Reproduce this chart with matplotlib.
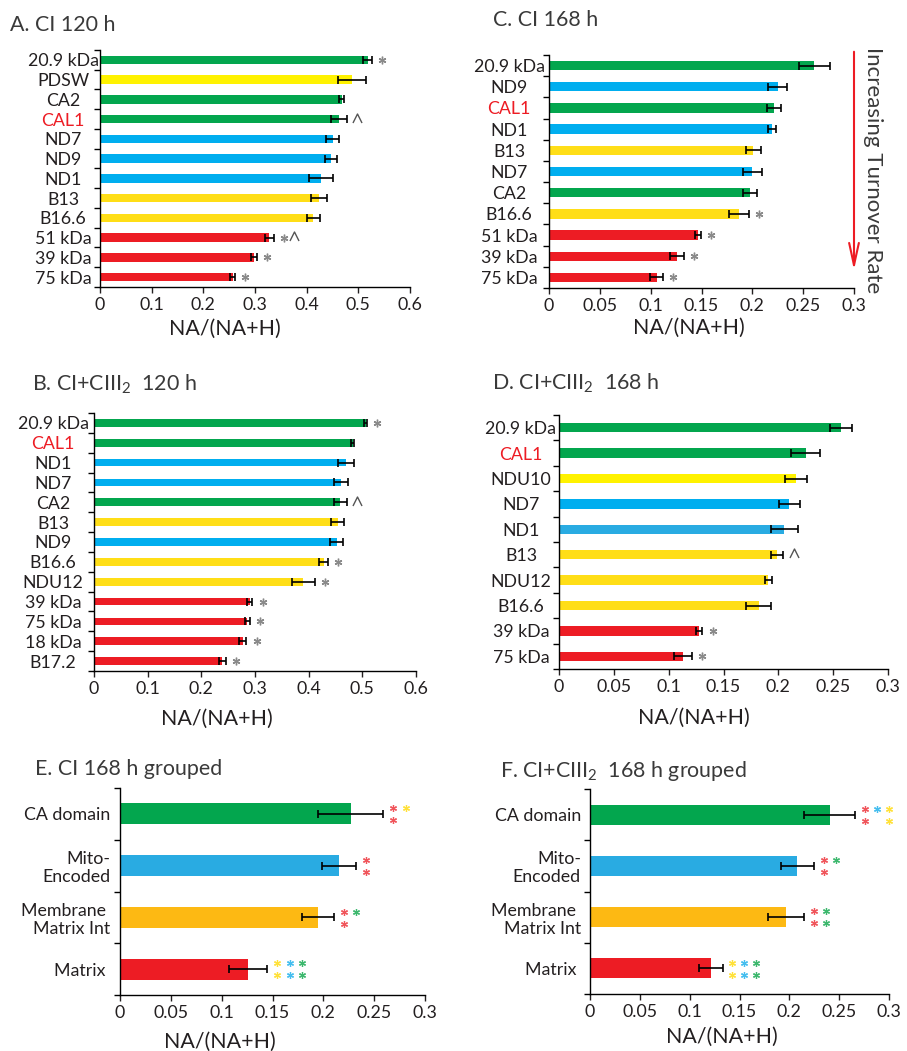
import numpy as np
import matplotlib.pyplot as plt
from matplotlib.path import Path

plt.rcParams['font.family'] = ['Lato', 'DejaVu Sans']
plt.rcParams['mathtext.fontset'] = 'custom'
plt.rcParams['mathtext.rm'] = 'Lato'
plt.rcParams['mathtext.it'] = 'Lato:italic'
plt.rcParams['mathtext.bf'] = 'Lato:bold'
plt.rcParams['font.size'] = 12.8

W, H = 907, 1051

# colour keys used by the bars
palette = {
    'g': '#03A64E', 'b': '#00AEEF', 'b2': '#29ABE2', 'y': '#FFF200',
    'o': '#FFDE17', 'm': '#FDB913', 'r': '#ED1C24',
}
# lighter tones for the small significance stars
star_palette = {'g': '#3DB86E', 'b': '#45BEEF', 'y': '#FFE13A', 'r': '#F0555B'}

# A. CI 120 h
A_labels = ['20.9 kDa', 'PDSW', 'CA2', 'CAL1', 'ND7', 'ND9', 'ND1', 'B13', 'B16.6', '51 kDa', '39 kDa', '75 kDa']
A_vals = [0.518, 0.487, 0.468, 0.463, 0.450, 0.447, 0.428, 0.424, 0.413, 0.328, 0.298, 0.257]
A_errs = [0.009, 0.027, 0.005, 0.015, 0.013, 0.011, 0.023, 0.015, 0.012, 0.008, 0.006, 0.005]
A_cols = ['g', 'y', 'g', 'g', 'b', 'b', 'b', 'o', 'o', 'r', 'r', 'r']
A_marks = ['*', '', '', '^', '', '', '', '', '', '*^', '*', '*']

# C. CI 168 h
C_labels = ['20.9 kDa', 'ND9', 'CAL1', 'ND1', 'B13', 'ND7', 'CA2', 'B16.6', '51 kDa', '39 kDa', '75 kDa']
C_vals = [0.261, 0.225, 0.221, 0.219, 0.201, 0.200, 0.198, 0.187, 0.147, 0.126, 0.106]
C_errs = [0.015, 0.0095, 0.007, 0.004, 0.0075, 0.0095, 0.007, 0.010, 0.003, 0.007, 0.0065]
C_cols = ['g', 'b', 'g', 'b', 'o', 'b', 'g', 'o', 'r', 'r', 'r']
C_marks = ['', '', '', '', '', '', '', '*', '*', '*', '*']

# B. CI+CIII2 120 h
B_labels = ['20.9 kDa', 'CAL1', 'ND1', 'ND7', 'CA2', 'B13', 'ND9', 'B16.6', 'NDU12',
            '39 kDa', '75 kDa', '18 kDa', 'B17.2']
B_vals = [0.506, 0.482, 0.469, 0.461, 0.459, 0.454, 0.452, 0.428, 0.390, 0.290, 0.286, 0.277, 0.239]
B_errs = [0.003, 0.003, 0.015, 0.013, 0.012, 0.012, 0.0125, 0.008, 0.021, 0.005, 0.0045, 0.007, 0.007]
B_cols = ['g', 'g', 'b', 'b', 'g', 'o', 'b', 'o', 'o', 'r', 'r', 'r', 'r']
B_marks = ['*', '', '', '', '^', '', '', '*', '*', '*', '*', '*', '*']

# D. CI+CIII2 168 h
D_labels = ['20.9 kDa', 'CAL1', 'NDU10', 'ND7', 'ND1', 'B13', 'NDU12', 'B16.6', '39 kDa', '75 kDa']
D_vals = [0.257, 0.225, 0.216, 0.210, 0.2055, 0.199, 0.191, 0.182, 0.128, 0.113]
D_errs = [0.010, 0.013, 0.010, 0.0095, 0.012, 0.0053, 0.0032, 0.0117, 0.0027, 0.008]
D_cols = ['g', 'g', 'y', 'b', 'b2', 'o', 'o', 'o', 'r', 'r']
D_marks = ['', '', '', '', '', '^', '', '', '*', '*']

# E / F grouped
G_labels = ['CA domain', 'Mito-\nEncoded', 'Membrane \nMatrix Int', 'Matrix ']
G_cols = ['g', 'b2', 'm', 'r']
E_vals = [0.227, 0.2154, 0.195, 0.126]
E_errs = [0.032, 0.0167, 0.0156, 0.019]
E_stars = [(['r', 'y'], ['r']), (['r'], ['r']), (['r', 'g'], ['r']), (['y', 'b', 'g'], ['y', 'b', 'g'])]
F_vals = [0.2405, 0.208, 0.197, 0.121]
F_errs = [0.0256, 0.0167, 0.018, 0.012]
F_stars = [(['r', 'b', 'y'], ['r', '', 'y']), (['r', 'g'], ['r']), (['r', 'g'], ['r', 'g']),
           (['y', 'b', 'g'], ['y', 'b', 'g'])]

fig = plt.figure(figsize=(W / 100, H / 100), dpi=100)
chevron = Path([(-1, -1), (0, 1), (1, -1)], [Path.MOVETO, Path.LINETO, Path.LINETO])


def make_axes(l, t, r, b):
    return fig.add_axes([l / W, 1 - b / H, (r - l) / W, (b - t) / H])


def base_panel(ax, labels, vals, errs, cols, xmax, step, height):
    n = len(labels)
    y = np.arange(n)
    ax.barh(y, vals, height=height, color=[palette[c] for c in cols],
            xerr=errs, error_kw=dict(ecolor='black', elinewidth=1.2, capsize=2.6, capthick=1.2))
    ax.set_ylim(n - 0.5, -0.5)
    ax.set_xlim(0, xmax)
    ax.set_yticks(y)
    ax.set_yticklabels(labels)
    ax.set_yticks(np.arange(n + 1) - 0.5, minor=True)
    ticks = np.arange(0, xmax + step / 2, step)
    ax.set_xticks(ticks)
    ax.set_xticklabels([f'{v:g}' for v in ticks])
    ax.tick_params(axis='y', which='minor', length=4, width=1, direction='out')
    ax.tick_params(axis='x', length=4, width=1, direction='out', pad=3, colors='#231f20')
    ax.tick_params(axis='y', which='major', length=0, labelcolor='#231f20')
    for s in ['top', 'right']:
        ax.spines[s].set_visible(False)
    for s in ['left', 'bottom']:
        ax.spines[s].set_linewidth(1.0)
        ax.spines[s].set_color('black')
    for t in ax.get_yticklabels():
        if t.get_text() == 'CAL1':
            t.set_color('#ED1C24')


def mark_panel(ax, vals, errs, marks, xmax):
    for i, m in enumerate(marks):
        x0 = vals[i] + errs[i] + 0.032 * xmax
        for k, ch in enumerate(m):
            x = x0 + k * 0.034 * xmax
            if ch == '*':
                ax.plot(x, i, marker=(6, 2, 0), ms=5.5, mew=1.0, color='#8a8a8a', clip_on=False)
            else:
                ax.plot(x, i - 0.08, marker=chevron, ms=6.5, mfc='none', mec='#555555',
                        mew=1.0, clip_on=False)


def star_panel(ax, vals, errs, stars, xmax):
    for i, rows in enumerate(stars):
        x0 = vals[i] + errs[i] + 0.033 * xmax
        for r, row in enumerate(rows):
            for k, c in enumerate(row):
                if c:
                    ax.plot(x0 + k * 0.04 * xmax, i - 0.11 + r * 0.23, marker=(6, 2, 0),
                            ms=5, mew=0.9, color=star_palette[c], clip_on=False)


def labels_centered(ax, pad):
    ax.tick_params(axis='y', which='major', pad=pad)
    for t in ax.get_yticklabels():
        t.set_ha('center')


def set_xlabel(ax, x, y):
    ax.set_xlabel('NA/(NA+H)', fontsize=15.4, color='#231f20')
    ax.xaxis.set_label_coords(x / W, 1 - y / H, transform=fig.transFigure)
    ax.xaxis.label.set_va('center')


def title(x, y, s):
    fig.text(x / W, 1 - y / H, s, ha='left', va='center', fontsize=15.4, color='#3a3a3a')


# A
axA = make_axes(100, 50, 410, 287)
base_panel(axA, A_labels, A_vals, A_errs, A_cols, 0.6, 0.1, 0.42)
mark_panel(axA, A_vals, A_errs, A_marks, 0.6)
labels_centered(axA, 26.6)
set_xlabel(axA, 225, 329)
title(10, 25, 'A. CI 120 h')

# C
axC = make_axes(549, 55, 854, 288)
base_panel(axC, C_labels, C_vals, C_errs, C_cols, 0.3, 0.05, 0.44)
mark_panel(axC, C_vals, C_errs, C_marks, 0.3)
labels_centered(axC, 28.8)
set_xlabel(axC, 689, 328)
title(493, 20, 'C. CI 168 h')
axC.annotate('', xy=(1.0, 0.077), xytext=(1.0, 1.014), xycoords='axes fraction',
             annotation_clip=False,
             arrowprops=dict(arrowstyle='->,head_length=1.6,head_width=0.35', color='#ED1C24',
                             lw=1.5, shrinkA=0, shrinkB=0, mutation_scale=10))
fig.text(873 / W, 1 - 170 / H, 'Increasing Turnover Rate', rotation=270, ha='center',
         va='center', fontsize=16, color='#3a3a3a')

# B
axB = make_axes(94, 413, 416, 671)
base_panel(axB, B_labels, B_vals, B_errs, B_cols, 0.6, 0.1, 0.39)
mark_panel(axB, B_vals, B_errs, B_marks, 0.6)
labels_centered(axB, 29.5)
set_xlabel(axB, 217, 719)
title(32, 384, r'B. CI+CIII$_2$  120 h')

# D
axD = make_axes(559, 415, 888, 669)
base_panel(axD, D_labels, D_vals, D_errs, D_cols, 0.3, 0.05, 0.37)
mark_panel(axD, D_vals, D_errs, D_marks, 0.3)
labels_centered(axD, 27.4)
set_xlabel(axD, 694, 718)
title(492, 383, r'D. CI+CIII$_2$  168 h')

# E
axE = make_axes(120, 788, 425, 995)
base_panel(axE, G_labels, E_vals, E_errs, G_cols, 0.3, 0.05, 0.41)
star_panel(axE, E_vals, E_errs, E_stars, 0.3)
axE.tick_params(axis='y', which='major', pad=7)
for t in axE.get_yticklabels():
    t.set_linespacing(1.15)
set_xlabel(axE, 220, 1042)
title(35, 769, 'E. CI 168 h grouped')

# F
axF = make_axes(590, 789, 889, 994)
base_panel(axF, G_labels, F_vals, F_errs, G_cols, 0.3, 0.05, 0.39)
star_panel(axF, F_vals, F_errs, F_stars, 0.3)
axF.tick_params(axis='y', which='major', pad=6.5)
for t in axF.get_yticklabels():
    t.set_linespacing(1.15)
set_xlabel(axF, 722, 1037)
title(500, 771, r'F. CI+CIII$_2$  168 h grouped')

fig.savefig('out.png', dpi=100)
